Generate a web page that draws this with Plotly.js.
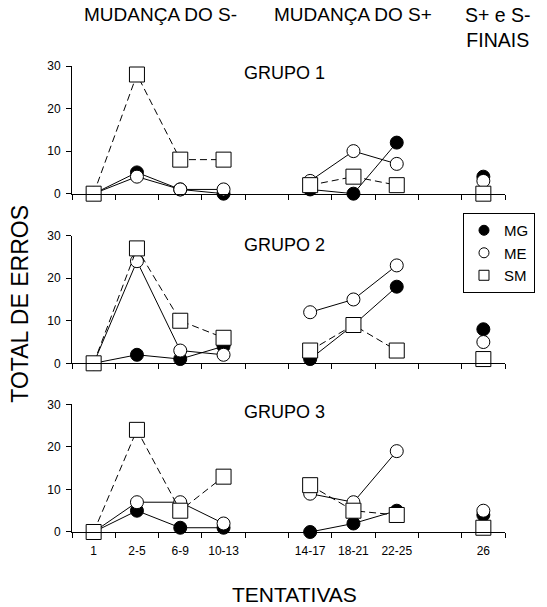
<!DOCTYPE html>
<html>
<head>
<meta charset="utf-8">
<script src="https://cdn.plot.ly/plotly-3.0.1.min.js"></script>
<style>html,body{margin:0;padding:0;background:#fff;}#chart{width:547px;height:607px;}</style>
</head>
<body>
<div id="chart"></div>
<script>
// Categories (blank entries are the empty slots on the axis)
var categories = ['1', '2-5', '6-9', '10-13', ' ', '14-17', '18-21', '22-25', '  ', '26'];
var seriesNames = ['MG', 'ME', 'SM'];
var groupNames = ['GRUPO 1', 'GRUPO 2', 'GRUPO 3'];
var yTicks = [0, 10, 20, 30];

// GRUPO 1
var g1MG = [0, 5, 1, 0, null, 1, 0, 12, null, 4];
var g1ME = [0, 4, 1, 1, null, 3, 10, 7, null, 3];
var g1SM = [0, 28, 8, 8, null, 2, 4, 2, null, 0];
// GRUPO 2
var g2MG = [0, 2, 1, 4, null, 1, 9, 18, null, 8];
var g2ME = [0, 24, 3, 2, null, 12, 15, 23, null, 5];
var g2SM = [0, 27, 10, 6, null, 3, 9, 3, null, 1];
// GRUPO 3
var g3MG = [0, 5, 1, 1, null, 0, 2, 5, null, 4];
var g3ME = [0, 7, 7, 2, null, 9, 7, 19, null, 5];
var g3SM = [0, 24, 5, 13, null, 11, 5, 4, null, 1];

var groups = [[g1MG, g1ME, g1SM], [g2MG, g2ME, g2SM], [g3MG, g3ME, g3SM]];

var FONT = 'Liberation Sans, Arial, Helvetica, sans-serif';
var styles = {
  MG: {line: {color: '#000', width: 1}, marker: {symbol: 'circle', size: 13, color: '#000', line: {color: '#000', width: 1}}},
  ME: {line: {color: '#000', width: 1}, marker: {symbol: 'circle', size: 13, color: '#fff', line: {color: '#000', width: 1}}},
  SM: {line: {color: '#000', width: 1, dash: '7px,4px'}, marker: {symbol: 'square', size: 15, color: '#fff', line: {color: '#000', width: 1}}}
};

var traces = [];
for (var g = 0; g < 3; g++) {
  for (var s = 0; s < 3; s++) {
    var nm = seriesNames[s];
    traces.push({
      x: categories, y: groups[g][s], type: 'scatter', mode: 'lines+markers',
      name: nm, showlegend: false, cliponaxis: false, connectgaps: false,
      xaxis: g === 0 ? 'x' : 'x' + (g + 1), yaxis: g === 0 ? 'y' : 'y' + (g + 1),
      line: styles[nm].line, marker: styles[nm].marker, hoverinfo: 'x+y+name'
    });
  }
}
// legend-only entries (markers only)
for (var s2 = 0; s2 < 3; s2++) {
  var n2 = seriesNames[s2];
  var m = JSON.parse(JSON.stringify(styles[n2].marker));
  m.size = 10;
  traces.push({x: [null], y: [null], type: 'scatter', mode: 'markers', name: n2,
    showlegend: true, marker: m, xaxis: 'x2', yaxis: 'y2'});
}

var domains = [[0.726, 1.0], [0.362, 0.636], [0.0, 0.274]];

function xAxis(g) {
  return {
    type: 'category', categoryorder: 'array', categoryarray: categories,
    range: [-0.5, categories.length - 0.5], tickson: 'boundaries',
    ticks: 'outside', ticklen: 5, tickcolor: '#000', tickwidth: 1,
    showline: true, linecolor: '#000', linewidth: 1, showgrid: false, zeroline: false,
    showticklabels: g === 2, ticklabelstandoff: 8,
    tickfont: {family: FONT, size: 12, color: '#000'},
    anchor: g === 0 ? 'y' : 'y' + (g + 1), domain: [0, 1], fixedrange: true
  };
}
function yAxis(g) {
  return {
    range: [0, 30], tickvals: yTicks, ticks: 'outside', ticklen: 5, tickcolor: '#000',
    showline: true, linecolor: '#000', linewidth: 1, showgrid: false, zeroline: false,
    tickfont: {family: FONT, size: 12, color: '#000'}, ticklabelstandoff: 3,
    anchor: g === 0 ? 'x' : 'x' + (g + 1), domain: domains[g], fixedrange: true
  };
}

var annotations = [];
var grpY = [0.985, 0.616, 0.258];
for (var g3 = 0; g3 < 3; g3++) {
  annotations.push({text: groupNames[g3], xref: 'paper', yref: 'paper', x: 0.49, y: grpY[g3],
    xanchor: 'center', yanchor: 'middle', showarrow: false, font: {family: FONT, size: 18, color: '#000'}});
}
annotations.push({text: 'MUDANÇA DO S-', xref: 'paper', yref: 'paper', x: 0.205, y: 1.111,
  xanchor: 'center', yanchor: 'middle', showarrow: false, font: {family: FONT, size: 19, color: '#000'}});
annotations.push({text: 'MUDANÇA DO S+', xref: 'paper', yref: 'paper', x: 0.648, y: 1.111,
  xanchor: 'center', yanchor: 'middle', showarrow: false, font: {family: FONT, size: 19, color: '#000'}});
annotations.push({text: 'S+ e S-<br>FINAIS', xref: 'paper', yref: 'paper', x: 0.984, y: 1.083,
  xanchor: 'center', yanchor: 'middle', showarrow: false, font: {family: FONT, size: 19.5, color: '#000'}});
annotations.push({text: 'TOTAL DE ERROS', xref: 'paper', yref: 'paper', x: -0.12, y: 0.49,
  xanchor: 'center', yanchor: 'middle', textangle: -90, showarrow: false, font: {family: FONT, size: 23, color: '#000'}});
annotations.push({text: 'TENTATIVAS', xref: 'paper', yref: 'paper', x: 0.515, y: -0.135,
  xanchor: 'center', yanchor: 'middle', showarrow: false, font: {family: FONT, size: 21, color: '#000'}});

var layout = {
  width: 547, height: 607,
  margin: {l: 72, r: 40, t: 66, b: 75, pad: 0},
  paper_bgcolor: '#fff', plot_bgcolor: '#fff',
  font: {family: FONT, color: '#000'},
  showlegend: true,
  legend: {x: 0.903, y: 0.6845, xanchor: 'left', yanchor: 'top',
    bgcolor: '#fff', bordercolor: '#000', borderwidth: 1,
    font: {family: FONT, size: 15, color: '#000'}, itemwidth: 30, tracegroupgap: 0},
  xaxis: xAxis(0), yaxis: yAxis(0),
  xaxis2: xAxis(1), yaxis2: yAxis(1),
  xaxis3: xAxis(2), yaxis3: yAxis(2),
  annotations: annotations
};

Plotly.newPlot('chart', traces, layout, {displayModeBar: false, staticPlot: true});
</script>
</body>
</html>
